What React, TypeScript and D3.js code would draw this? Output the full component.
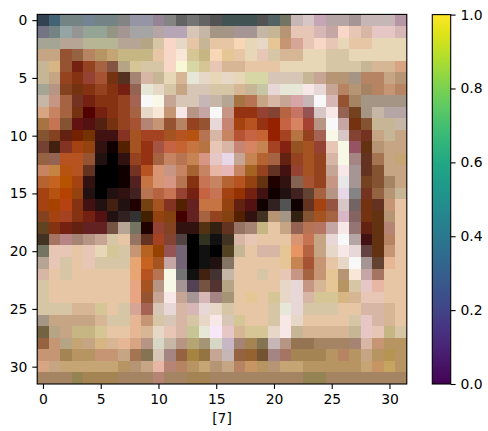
import { useEffect, useRef } from "react";
import * as d3 from "d3";

// 32x32 pixel colours (3-digit hex per cell, high nibble of each channel)
const pixelRows: string[] = [
  "345 467 788 788 789 788 788 888 99a 99a 989 888 666 777 666 555 455 455 455 555 566 776 cbb dcc cab baa baa a99 cbb cbb cbb b9a",
  "778 788 9aa 999 9a9 9a9 998 a99 aaa aaa baa bab bab dcb cba a98 a98 a99 a99 cba cb9 b97 ecb ecb dbb caa fdc ecb dba ecc ecc dbb",
  "aa9 aa9 ba9 ba9 bb9 bb9 bb9 ba9 ba9 ba8 dca fdc edc eca cb9 eca eca fdb edb edc ec9 c97 da9 ecb fdc ecb edb eca eca edb edb edb",
  "ca8 ca8 953 964 b86 b96 ca7 cb8 cb8 cb8 eca fdc fed dc9 cb8 fdb ec9 eca edb ecb dca db9 db9 edb edb dca dca edb edb edb edb edb",
  "cb9 db8 953 721 942 a64 854 ba8 dc9 dca dca fdc ffd dda dc9 ecb db9 db9 eca eca eca edb edb edb edb dca dca dca cb9 db9 db9 da8",
  "cb9 ca8 942 831 943 a53 731 532 a87 dba cb9 edb db9 eed edc edb edc edb dda dda dcb dcb dcb cb9 ca9 b97 b97 a98 b86 b86 ca8 b97",
  "aa9 b98 842 731 831 942 831 721 965 eed edc dca ca8 dcb dcb dca dca db9 cb9 cca edd eed eed fee edd ca9 b86 b97 a86 b86 c97 b86",
  "cba c98 a64 732 721 831 831 942 a65 fff ffe ca9 dcb dcb cbb cba ba9 a74 b75 ca8 dba ca9 daa cbb fff dbb 953 a86 a98 a98 a98 a98",
  "da8 c86 a64 731 500 721 831 942 a64 edc fed c97 fee b98 caa fff c98 931 931 943 843 b64 c76 955 dcc fee 965 742 a98 cba baa baa",
  "a74 c75 853 611 511 521 731 942 a53 b87 c97 953 b86 942 953 edd c87 a41 b52 931 920 c64 d86 a43 b98 fff caa 731 853 cb9 cb9 cba",
  "853 842 621 720 730 411 411 832 a52 a42 a42 a52 b52 b51 b75 dba c86 b53 c64 c63 920 a42 b74 942 a65 ffe dcc 843 732 ca8 cb9 ca8",
  "743 421 832 a41 941 311 100 520 a52 931 a54 c64 c63 c74 b74 ecb dba c87 d86 c85 a42 821 952 a52 943 ecb ffe 956 631 b97 ca8 ca8",
  "964 965 b52 b52 953 211 000 311 942 931 a64 c86 b75 c85 d98 ecc ede ca9 c85 b63 a64 621 942 a52 942 dba ffe a88 632 a75 ca8 ca7",
  "c86 c84 b51 b52 632 000 000 100 732 b52 d97 c98 c86 a63 c86 eba ebb c86 a62 942 632 411 943 a52 942 ca9 fee a99 632 853 ca8 ca8",
  "b63 c62 b50 a41 311 000 000 100 522 c74 d97 d98 b75 831 c75 c86 b63 b52 941 631 200 311 865 a53 942 c98 eee a99 742 853 a86 ca8",
  "a41 b51 b40 941 211 000 211 311 422 b75 b64 c75 943 721 c64 c75 a41 930 721 411 100 211 422 643 a64 b98 ede 888 732 964 b97 cb9",
  "a41 a40 b41 831 411 211 421 211 200 741 a52 832 520 622 c74 c74 941 621 511 100 322 555 100 632 a41 954 dcc 766 731 632 c97 eca",
  "842 a41 a42 831 721 511 211 322 333 420 941 841 400 622 a64 942 841 520 311 432 b97 a98 321 853 a52 a64 dbc 866 731 631 b97 eca",
  "642 831 721 621 622 622 754 ba9 776 200 943 842 311 311 531 321 632 976 a87 cb8 eca ca8 965 b75 b76 caa fee 977 621 631 b87 eca",
  "432 a76 b88 a87 b98 ca9 dca eca 976 632 a42 843 544 000 332 111 432 dba ecb eca eca eca d97 c75 ca8 edd fff baa 411 631 b86 eca",
  "776 ecb ecb eca ecb edb dc9 dca c97 b62 940 955 767 000 111 000 542 cb9 eca dba dba ec9 e96 b64 ca8 edc fee edd 644 631 c97 eca",
  "ba9 ecb dca eca ecb dca dca dca ea7 c62 a52 caa 767 000 111 211 876 eca eca eca eca ec9 c85 a53 c97 eca edc fff a99 643 eb9 eca",
  "dba eca dca eca eca eca eca eca ea7 b52 b75 ffe 777 111 421 433 cba eca eca dca eca ecb c98 a64 c97 ec9 b97 fed caa a76 eca eca",
  "dca eca eca eca eca eca eca eca ea8 a52 b98 ffe a99 545 754 533 ba8 eca eca eca eca edc edd c98 db9 ec9 b96 dca ecc eba eca eca",
  "dca eca eca eca eca eca eca eca ea8 953 ca9 fee ca9 a99 dbb a88 a97 eca ec9 eca dc9 edc edd dba dc9 dc9 db8 db9 ecb ecb eca eca",
  "dca dca dca db9 db9 dc9 eca dca da9 a65 dcb edd dba dbb edd edc dca eca eca eca dca eed edd dca dca dca eca eca dba dba db9 eca",
  "a98 ca8 ca8 ca8 ca8 db9 dca dca eb9 c97 dca dcb dba dca edc fee dcb dc9 eca eca dca fee edc eca eca eca eca dca ecc dba db9 eca",
  "764 ba8 ca8 cb8 cb8 dc9 eca eca eb9 db9 edc ecb dba cc9 eed fef ecc db9 dc9 dc9 edc fee cb9 db9 db9 db9 db9 cb9 ecc ecb cb8 dca",
  "964 c97 ba8 ca7 ca8 db8 db9 eb9 da8 b98 ddc cba b98 ba7 a97 ddc cbc a87 a85 875 cbb b98 975 975 a86 a86 a86 a87 dba c97 b96 b96",
  "c97 c97 a85 b96 b96 c97 c97 ca8 a75 875 dcb a88 964 a84 974 ca9 cbb 964 963 753 a88 a76 a85 a85 a85 b96 b86 b96 ca8 b96 b95 b96",
  "da8 ca8 ca7 ca7 ca7 ca7 ca7 b96 b97 ca8 eba b87 b86 b96 ca7 b97 ca8 b86 c96 b96 b97 ca7 ca7 b96 b96 b96 b96 b96 ca7 c96 ca6 b96",
  "a86 a86 a86 985 a85 a85 a85 a86 a86 a86 b87 a86 a86 a85 a85 a86 a86 a86 a86 a86 a86 a86 a86 985 985 a86 a86 a86 a86 a86 a86 a86",
];

const xTicks = [0, 5, 10, 15, 20, 25, 30];
const yTicks = [0, 5, 10, 15, 20, 25, 30];
const colorbarTicks = [0, 0.2, 0.4, 0.6, 0.8, 1.0];
const xLabel = "[7]";

const W = 488;
const H = 431;
const FONT = "'DejaVu Sans', sans-serif";
const FONT_SIZE = 13.9;
const TICK_LEN = 4.9;

// each nibble was read as the high digit of the channel, so d -> about d*16.5
function decode(code: string) {
  const [r, g, b] = code.split("").map((c) => Math.round(parseInt(c, 16) * 16.5));
  return d3.rgb(r, g, b).formatHex();
}

export default function App() {
  const svgRef = useRef<SVGSVGElement>(null);

  useEffect(() => {
    if (!svgRef.current) return;
    const svg = d3.select(svgRef.current);
    svg.selectAll("*").remove();

    const img = { left: 37.2, top: 14.4, size: 369.6 };
    const n = pixelRows.length;
    const cells = pixelRows.map((r) => r.trim().split(/\s+/));

    const xScale = d3
      .scaleLinear()
      .domain([-0.5, n - 0.5])
      .range([img.left, img.left + img.size]);
    const yScale = d3
      .scaleLinear()
      .domain([-0.5, n - 0.5])
      .range([img.top, img.top + img.size]);

    // Pixels
    const g = svg.append("g");
    cells.forEach((row, ri) => {
      g.selectAll(null)
        .data(row)
        .enter()
        .append("rect")
        .attr("x", (_, ci) => xScale(ci - 0.5))
        .attr("y", yScale(ri - 0.5))
        .attr("width", xScale(0.5) - xScale(-0.5) + 0.4)
        .attr("height", yScale(0.5) - yScale(-0.5) + 0.4)
        .attr("fill", (d) => decode(d))
        .attr("shape-rendering", "crispEdges");
    });

    // Frame
    svg
      .append("rect")
      .attr("x", img.left)
      .attr("y", img.top)
      .attr("width", img.size)
      .attr("height", img.size)
      .attr("fill", "none")
      .attr("stroke", "#000")
      .attr("stroke-width", 1.1);

    const styleAxis = (sel: d3.Selection<SVGGElement, unknown, null, undefined>) => {
      sel.select(".domain").remove();
      sel.selectAll(".tick line").attr("stroke", "#000").attr("stroke-width", 1.1);
      sel
        .selectAll(".tick text")
        .attr("fill", "#000")
        .style("font-family", FONT)
        .style("font-size", `${FONT_SIZE}px`);
    };

    svg
      .append("g")
      .attr("transform", `translate(0, ${img.top + img.size})`)
      .call(
        d3
          .axisBottom(xScale)
          .tickValues(xTicks)
          .tickSize(TICK_LEN)
          .tickPadding(4.9)
          .tickFormat((d) => String(d))
      )
      .call(styleAxis);

    svg
      .append("g")
      .attr("transform", `translate(${img.left}, 0)`)
      .call(
        d3
          .axisLeft(yScale)
          .tickValues(yTicks)
          .tickSize(TICK_LEN)
          .tickPadding(4.9)
          .tickFormat((d) => String(d))
      )
      .call(styleAxis);

    svg
      .append("text")
      .attr("x", img.left + img.size / 2)
      .attr("y", 423)
      .attr("text-anchor", "middle")
      .style("font-family", FONT)
      .style("font-size", `${FONT_SIZE}px`)
      .text(xLabel);

    // Colorbar
    const cb = { left: 432.3, top: 14.6, width: 18.4, height: 369.4 };
    const defs = svg.append("defs");
    const grad = defs
      .append("linearGradient")
      .attr("id", "viridis")
      .attr("x1", 0)
      .attr("y1", 1)
      .attr("x2", 0)
      .attr("y2", 0);
    d3.range(0, 1.0001, 0.05).forEach((t) => {
      grad
        .append("stop")
        .attr("offset", t)
        .attr("stop-color", d3.interpolateViridis(t));
    });
    svg
      .append("rect")
      .attr("x", cb.left)
      .attr("y", cb.top)
      .attr("width", cb.width)
      .attr("height", cb.height)
      .attr("fill", "url(#viridis)")
      .attr("stroke", "#000")
      .attr("stroke-width", 1.1);

    const cbScale = d3
      .scaleLinear()
      .domain([0, 1])
      .range([cb.top + cb.height, cb.top]);
    svg
      .append("g")
      .attr("transform", `translate(${cb.left + cb.width}, 0)`)
      .call(
        d3
          .axisRight(cbScale)
          .tickValues(colorbarTicks)
          .tickSize(TICK_LEN)
          .tickPadding(4.9)
          .tickFormat(d3.format(".1f"))
      )
      .call(styleAxis);
  }, []);

  return (
    <svg
      ref={svgRef}
      width={W}
      height={H}
      style={{ position: "fixed", left: 0, top: 0, background: "#fff" }}
    />
  );
}
